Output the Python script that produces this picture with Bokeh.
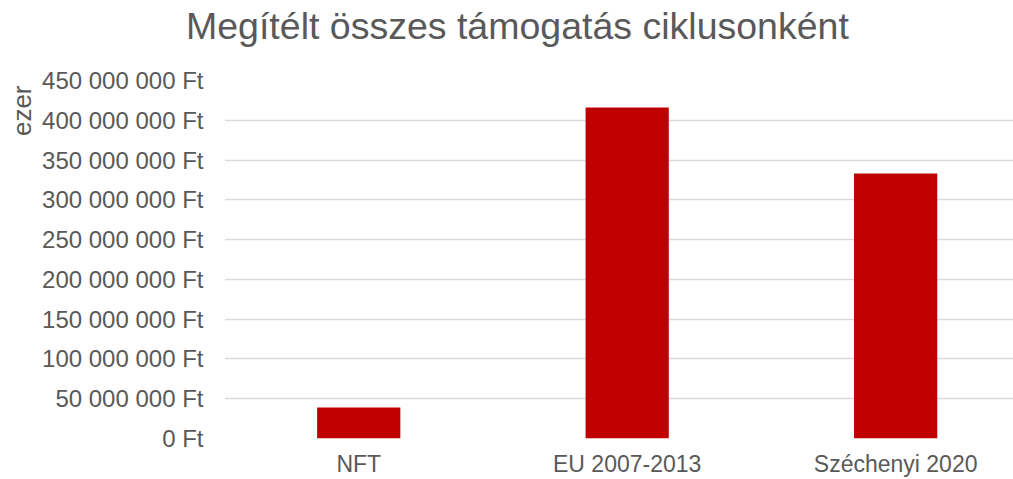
from bokeh.plotting import figure
from bokeh.models import Range1d, FixedTicker, Title
from bokeh.embed import file_html
from bokeh.resources import INLINE

# Data
categories = ["NFT", "EU 2007-2013", "Széchenyi 2020"]
values = [39_000_000, 416_000_000, 333_000_000]
y_ticks = [0, 50_000_000, 100_000_000, 150_000_000, 200_000_000,
           250_000_000, 300_000_000, 350_000_000, 400_000_000, 450_000_000]
title_text = "Megítélt összes támogatás ciklusonként"
y_label_text = "ezer"


def fmt_ft(v):
    s = f"{int(v):,}".replace(",", " ")
    return s + " Ft"


FONT = "Liberation Sans"
GREY = "#595959"

xs = [i + 0.5 for i in range(len(categories))]

p = figure(width=1013, height=479, output_backend="svg", toolbar_location=None,
           x_range=Range1d(0, 2.939), y_range=Range1d(0, 450_000_000),
           min_border_left=224, min_border_right=0, min_border_top=0,
           min_border_bottom=40)
p.outline_line_color = None
p.background_fill_color = "white"
p.border_fill_color = "white"

p.vbar(x=xs, top=values, width=0.31, bottom=0, color="#C00000", line_color=None)

p.title.text = title_text
p.title.align = "left"
p.title.offset = -38.5
p.title.standoff = 4.6
p.title.text_font = FONT
p.title.text_font_size = "37.5px"
p.title.text_font_style = "normal"
p.title.text_color = GREY

# spacer between title and plot area
spacer = Title(text=" ", text_font_size="1px", standoff=28)
p.add_layout(spacer, "above")

# Y axis
yax = p.yaxis[0]
yax.ticker = FixedTicker(ticks=y_ticks)
yax.major_label_overrides = {t: fmt_ft(t) for t in y_ticks}
yax.axis_line_color = None
yax.major_tick_line_color = None
yax.minor_tick_line_color = None
yax.major_tick_out = 0
yax.major_label_standoff = 21
yax.major_label_text_font = FONT
yax.major_label_text_font_size = "24px"
yax.major_label_text_color = GREY

# X axis
xax = p.xaxis[0]
xax.ticker = FixedTicker(ticks=xs)
xax.major_label_overrides = {x: c for x, c in zip(xs, categories)}
xax.axis_line_color = None
xax.major_tick_line_color = None
xax.minor_tick_line_color = None
xax.major_tick_out = 0
xax.major_label_standoff = 12
xax.major_label_text_font = FONT
xax.major_label_text_font_size = "23px"
xax.major_label_text_color = GREY

p.xgrid.grid_line_color = None
p.ygrid.grid_line_color = "#D9D9D9"
p.ygrid.grid_line_width = 1.5

ylab = Title(text=y_label_text, align="right", offset=5, standoff=5,
             text_font=FONT, text_font_size="26px", text_font_style="normal",
             text_color=GREY)
p.add_layout(ylab, "left")

open("out.html", "w").write(file_html(p, INLINE))
